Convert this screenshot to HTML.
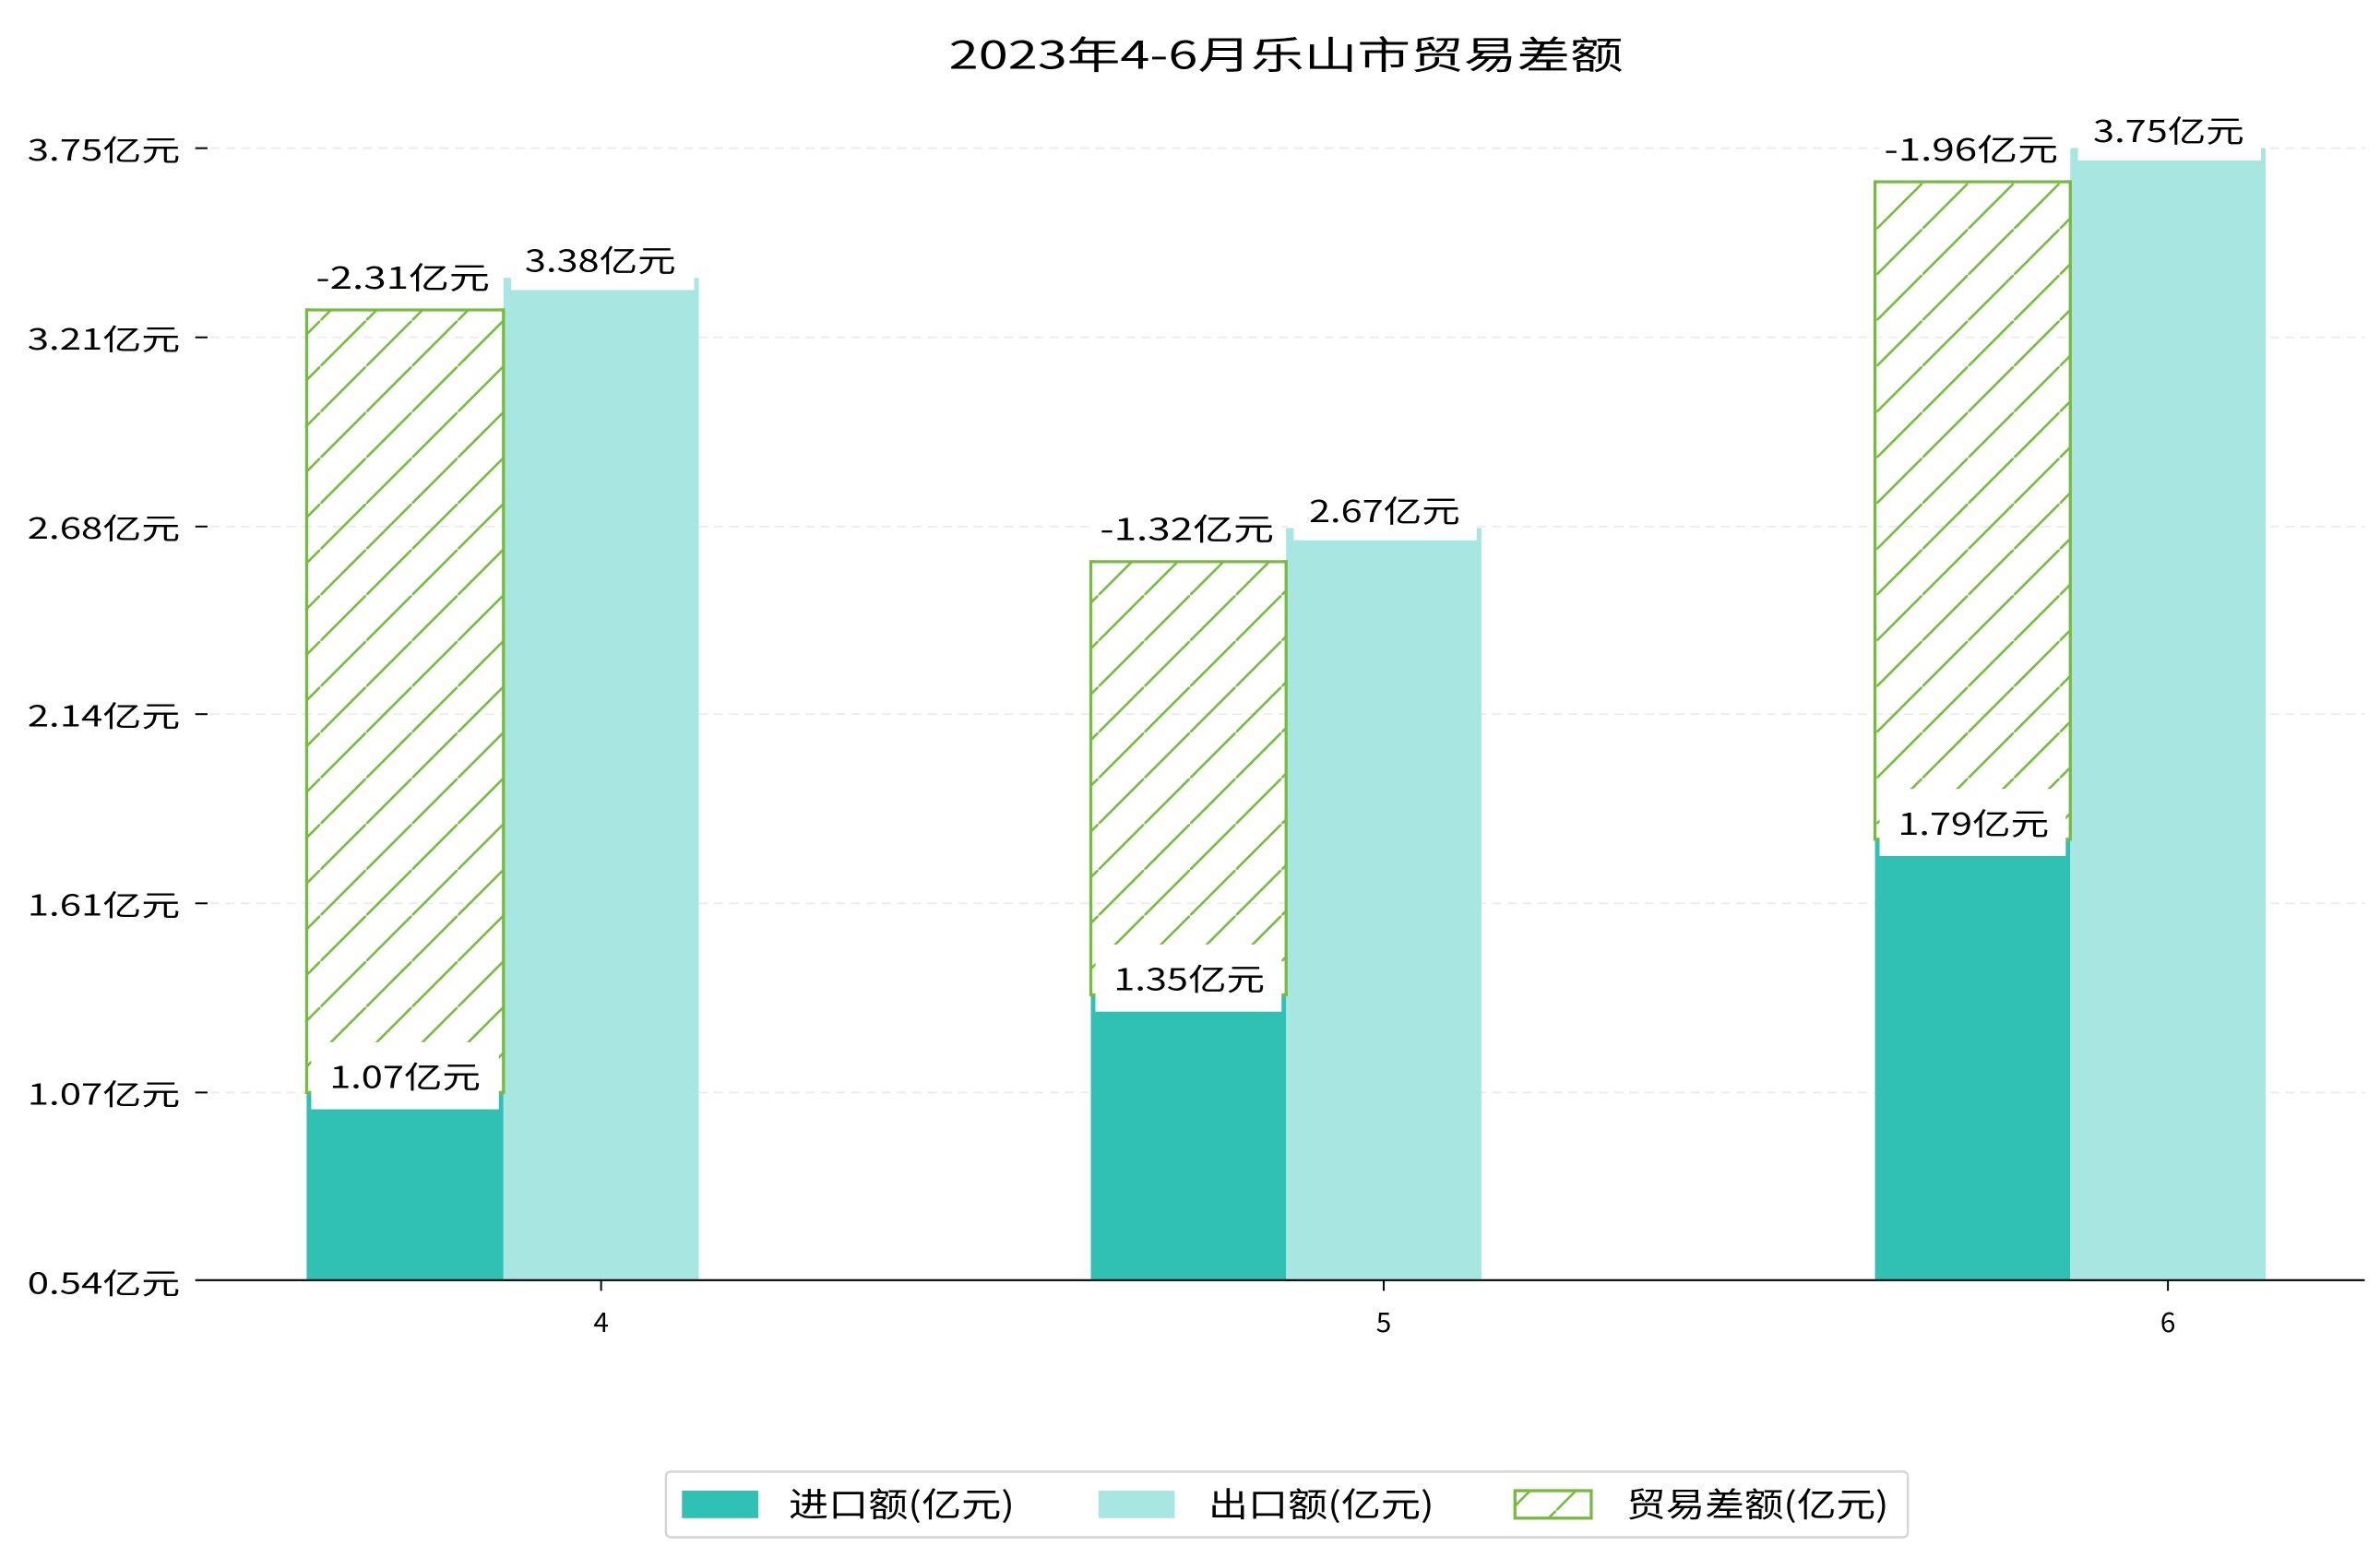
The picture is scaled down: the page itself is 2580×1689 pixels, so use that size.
<!DOCTYPE html>
<html><head><meta charset="utf-8"><style>
html,body{margin:0;padding:0;background:#fff;}
svg{display:block;}
text{font-family:"WenQuanYi Zen Hei","Noto Sans CJK SC",sans-serif;fill:#000;}
</style></head><body>
<svg width="2580" height="1689" viewBox="0 0 1560 1021" xmlns="http://www.w3.org/2000/svg">
<defs>
<pattern id="h" patternUnits="userSpaceOnUse" width="30" height="30">
<line x1="-3" y1="33" x2="33" y2="-3" stroke="#76bb40" stroke-width="1.6"/>
</pattern>
</defs>
<rect width="1560" height="1021" fill="#fff"/>
<text x="622" y="45" font-size="25" textLength="442" lengthAdjust="spacingAndGlyphs">2023年4-6月乐山市贸易差额</text>
<g stroke="#eaeaea" stroke-width="1" stroke-dasharray="6,4">
<line x1="128" x2="1550" y1="97" y2="97"/><line x1="128" x2="1550" y1="221" y2="221"/>
<line x1="128" x2="1550" y1="345" y2="345"/><line x1="128" x2="1550" y1="468" y2="468"/>
<line x1="128" x2="1550" y1="592" y2="592"/><line x1="128" x2="1550" y1="716" y2="716"/>
</g>
<g stroke="#000" stroke-width="1.2">
<line x1="128" x2="136" y1="97" y2="97"/><line x1="128" x2="136" y1="221" y2="221"/>
<line x1="128" x2="136" y1="345" y2="345"/><line x1="128" x2="136" y1="468" y2="468"/>
<line x1="128" x2="136" y1="592" y2="592"/><line x1="128" x2="136" y1="716" y2="716"/>
</g>
<g font-size="19">
<text x="18" y="105" textLength="100" lengthAdjust="spacingAndGlyphs">3.75亿元</text>
<text x="18" y="229" textLength="100" lengthAdjust="spacingAndGlyphs">3.21亿元</text>
<text x="18" y="353" textLength="100" lengthAdjust="spacingAndGlyphs">2.68亿元</text>
<text x="18" y="476" textLength="100" lengthAdjust="spacingAndGlyphs">2.14亿元</text>
<text x="18" y="600" textLength="100" lengthAdjust="spacingAndGlyphs">1.61亿元</text>
<text x="18" y="724" textLength="100" lengthAdjust="spacingAndGlyphs">1.07亿元</text>
<text x="18" y="848" textLength="100" lengthAdjust="spacingAndGlyphs">0.54亿元</text>
</g>
<rect x="201" y="716" width="129" height="123" fill="#30c0b4"/>
<rect x="330" y="182" width="128" height="657" fill="#a8e6e1"/>
<rect x="201" y="203" width="129" height="513" fill="url(#h)" stroke="#76bb40" stroke-width="2"/>
<rect x="715" y="652" width="128" height="187" fill="#30c0b4"/>
<rect x="843" y="346" width="128" height="493" fill="#a8e6e1"/>
<rect x="715" y="368" width="128" height="284" fill="url(#h)" stroke="#76bb40" stroke-width="2"/>
<rect x="1229" y="550" width="128" height="289" fill="#30c0b4"/>
<rect x="1357" y="97" width="128" height="742" fill="#a8e6e1"/>
<rect x="1229" y="119" width="128" height="431" fill="url(#h)" stroke="#76bb40" stroke-width="2"/>
<g fill="#fff">
<rect x="204" y="683" width="123" height="44"/><rect x="335" y="152" width="120" height="38"/><rect x="204" y="162" width="123" height="40"/>
<rect x="718" y="619" width="122" height="44"/><rect x="848" y="316" width="120" height="38"/><rect x="718" y="327" width="122" height="40"/>
<rect x="1232" y="517" width="122" height="44"/><rect x="1362" y="67" width="120" height="38"/><rect x="1232" y="78" width="122" height="40"/>
</g>
<g font-size="20">
<text x="216" y="713" textLength="99" lengthAdjust="spacingAndGlyphs">1.07亿元</text>
<text x="344" y="178" textLength="99" lengthAdjust="spacingAndGlyphs">3.38亿元</text>
<text x="207" y="189" textLength="114" lengthAdjust="spacingAndGlyphs">-2.31亿元</text>
<text x="730" y="649" textLength="99" lengthAdjust="spacingAndGlyphs">1.35亿元</text>
<text x="858" y="342" textLength="99" lengthAdjust="spacingAndGlyphs">2.67亿元</text>
<text x="721" y="354" textLength="114" lengthAdjust="spacingAndGlyphs">-1.32亿元</text>
<text x="1244" y="547" textLength="99" lengthAdjust="spacingAndGlyphs">1.79亿元</text>
<text x="1372" y="93" textLength="99" lengthAdjust="spacingAndGlyphs">3.75亿元</text>
<text x="1235" y="105" textLength="114" lengthAdjust="spacingAndGlyphs">-1.96亿元</text>
</g>
<line x1="128" x2="1550" y1="839" y2="839" stroke="#000" stroke-width="1.3"/>
<g stroke="#000" stroke-width="1.2"><line x1="394" x2="394" y1="839" y2="846"/><line x1="907" x2="907" y1="839" y2="846"/><line x1="1421" x2="1421" y1="839" y2="846"/></g>
<g font-size="18" text-anchor="middle"><text x="394" y="873">4</text><text x="907" y="873">5</text><text x="1421" y="873">6</text></g>
<rect x="436.5" y="964.5" width="814" height="43" rx="3" fill="#fff" stroke="#d5d5d5" stroke-width="1.5"/>
<rect x="447" y="977" width="50" height="18" fill="#30c0b4"/>
<rect x="720" y="977" width="50" height="18" fill="#a8e6e1"/>
<rect x="993" y="977" width="50" height="18" fill="url(#h)" stroke="#76bb40" stroke-width="2"/>
<g font-size="22">
<text x="517" y="994" textLength="148" lengthAdjust="spacingAndGlyphs">进口额(亿元)</text>
<text x="792" y="994" textLength="148" lengthAdjust="spacingAndGlyphs">出口额(亿元)</text>
<text x="1066" y="994" textLength="172" lengthAdjust="spacingAndGlyphs">贸易差额(亿元)</text>
</g>
</svg>
</body></html>
